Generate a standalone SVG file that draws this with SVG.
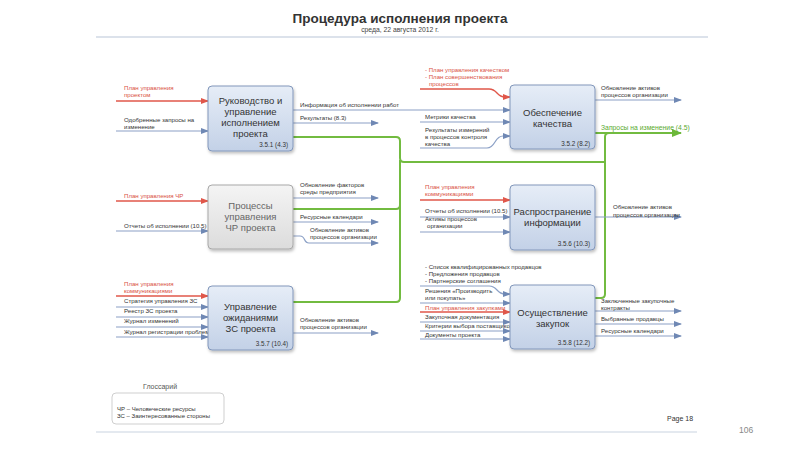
<svg xmlns="http://www.w3.org/2000/svg" width="800" height="450" viewBox="0 0 800 450">
<defs>
<linearGradient id="gBlue" x1="0" y1="0" x2="0" y2="1">
<stop offset="0" stop-color="#e6edf7"/>
<stop offset="1" stop-color="#c3d1e7"/>
</linearGradient>
<linearGradient id="gGray" x1="0" y1="0" x2="0" y2="1">
<stop offset="0" stop-color="#f4f4f4"/>
<stop offset="1" stop-color="#dcdcdc"/>
</linearGradient>
<filter id="sh" x="-10%" y="-10%" width="130%" height="130%">
<feDropShadow dx="1" dy="2" stdDeviation="1.5" flood-color="#000" flood-opacity="0.25"/>
</filter>
<marker id="aB" markerWidth="8" markerHeight="6" refX="7" refY="3" orient="auto" markerUnits="userSpaceOnUse">
<path d="M0,0 L8,3 L0,6 Z" fill="#6f88b4"/>
</marker>
<marker id="aR" markerWidth="8" markerHeight="6" refX="7" refY="3" orient="auto" markerUnits="userSpaceOnUse">
<path d="M0,0 L8,3 L0,6 Z" fill="#e0574a"/>
</marker>
<marker id="aG" markerWidth="10" markerHeight="8" refX="9" refY="4" orient="auto" markerUnits="userSpaceOnUse">
<path d="M0,0 L10,4 L0,8 Z" fill="#6cb83a"/>
</marker>
</defs>
<style>
text{font-family:"Liberation Sans",Arial,sans-serif;}
.box{fill:url(#gBlue);stroke:#8297bb;stroke-width:1;filter:url(#sh);}
.boxg{fill:url(#gGray);stroke:#a8a8a8;stroke-width:1;filter:url(#sh);}
.bt{font-size:9.5px;fill:#333;text-anchor:middle;}
.btg{font-size:9.5px;fill:#666;text-anchor:middle;}
.num{font-size:6.3px;fill:#333;text-anchor:end;}
.lb{font-size:6.1px;fill:#333;}
.lr{font-size:6.1px;fill:#d9503f;}
.lg{font-size:6.8px;fill:#5aaa30;}
.cb{fill:none;stroke:#8ba0c6;stroke-width:1.2;marker-end:url(#aB);}
.cr{fill:none;stroke:#e0574a;stroke-width:1.4;marker-end:url(#aR);}
.cg{fill:none;stroke:#72bb40;stroke-width:2;}
</style>
<rect width="800" height="450" fill="#ffffff"/>

<g id="header">
<text x="400" y="23" font-size="13.5" font-weight="bold" fill="#333" text-anchor="middle">Процедура исполнения проекта</text>
<text x="400" y="31.5" font-size="6.8" fill="#444" text-anchor="middle">среда, 22 августа 2012 г.</text>
<line x1="96" y1="37" x2="708" y2="37" stroke="#b9c5d8" stroke-width="1.2"/>
</g>

<g id="connectors">
<!-- green change requests -->
<path class="cg" d="M293,137 H396 Q400,137 400,141 V158 Q400,162 404,162 H605"/>
<path class="cg" d="M293,209 H396 Q400,209 400,205 V160"/>
<path class="cg" d="M293,302 H396 Q400,302 400,298 V205"/>
<path class="cg" d="M595,298 H601 Q605,298 605,294 V137 Q605,133 609,133"/>
<path class="cg" d="M595,133 H681" marker-end="url(#aG)"/>

<!-- box1 -->
<path class="cr" d="M116,101 H208"/>
<path class="cb" d="M116,131 H208"/>
<path class="cb" d="M293,110 H510"/>
<path class="cb" d="M293,123 H378"/>
<!-- box4 -->
<path class="cr" d="M420,89 H489 C498,89 496,97 505,97 H510"/>
<path class="cb" d="M420,122 H510"/>
<path class="cb" d="M420,148 H487 C496,148 494,136 503,136 H510"/>
<path class="cb" d="M595,100 H681"/>
<!-- box2 -->
<path class="cr" d="M116,201 H208"/>
<path class="cb" d="M116,231 H208"/>
<path class="cb" d="M293,198 H378"/>
<path class="cb" d="M293,222 H378"/>
<path class="cb" d="M293,236 H300 C306,236 303,243 309,243 H378"/>
<!-- box5 -->
<path class="cr" d="M420,200 H510"/>
<path class="cb" d="M420,217 H510"/>
<path class="cb" d="M420,232 H510"/>
<path class="cb" d="M595,217 H681"/>
<!-- box3 -->
<path class="cr" d="M116,296 H208"/>
<path class="cb" d="M116,307 H208"/>
<path class="cb" d="M116,317 H208"/>
<path class="cb" d="M116,327 H208"/>
<path class="cb" d="M116,337 H208"/>
<path class="cb" d="M293,333 H378"/>
<!-- box6 -->
<path class="cb" d="M420,286 H489 C498,286 496,294 505,294 H510"/>
<path class="cb" d="M420,303 H510"/>
<path class="cr" d="M420,312 H510"/>
<path class="cb" d="M420,322 H510"/>
<path class="cb" d="M420,331 H510"/>
<path class="cb" d="M420,339 H510"/>
<path class="cb" d="M595,311 H681"/>
<path class="cb" d="M595,324 H681"/>
<path class="cb" d="M595,336 H681"/>
</g>

<g id="labels">
<text class="lr" x="124" y="90">План управления</text>
<text class="lr" x="124" y="97">проектом</text>
<text class="lb" x="124" y="122">Одобренные запросы на</text>
<text class="lb" x="124" y="129">изменение</text>
<text class="lb" x="300" y="107">Информация об исполнении работ</text>
<text class="lb" x="300" y="120">Результаты (8.3)</text>

<text class="lr" x="425" y="72">- План управления качеством</text>
<text class="lr" x="425" y="79">- План совершенствования</text>
<text class="lr" x="429" y="86">процессов</text>
<text class="lb" x="425" y="119">Метрики качества</text>
<text class="lb" x="425" y="132">Результаты измерений</text>
<text class="lb" x="425" y="139">в процессов контроля</text>
<text class="lb" x="425" y="146">качества</text>
<text class="lb" x="601" y="90">Обновление активов</text>
<text class="lb" x="601" y="97">процессов организации</text>
<text class="lg" x="601" y="130">Запросы на изменение (4.5)</text>

<text class="lr" x="124" y="198">План управления ЧР</text>
<text class="lb" x="124" y="228">Отчеты об исполнении (10.5)</text>
<text class="lb" x="300" y="187">Обновление факторов</text>
<text class="lb" x="300" y="194">среды предприятия</text>
<text class="lb" x="300" y="219">Ресурсные календари</text>
<text class="lb" x="310" y="232">Обновление активов</text>
<text class="lb" x="310" y="239">процессов организации</text>

<text class="lr" x="425" y="189">План управления</text>
<text class="lr" x="425" y="196">коммуникациями</text>
<text class="lb" x="425" y="213">Отчеты об исполнении (10.5)</text>
<text class="lb" x="425" y="221">Активы процессов</text>
<text class="lb" x="427" y="228">организации</text>
<text class="lb" x="613" y="209">Обновление активов</text>
<text class="lb" x="613" y="217">процессов организации</text>

<text class="lr" x="124" y="286">План управления</text>
<text class="lr" x="124" y="293">коммуникациями</text>
<text class="lb" x="124" y="303">Стратегия управления ЗС</text>
<text class="lb" x="124" y="313">Реестр ЗС проекта</text>
<text class="lb" x="124" y="323">Журнал изменений</text>
<text class="lb" x="124" y="334">Журнал регистрации проблем</text>
<text class="lb" x="300" y="322">Обновление активов</text>
<text class="lb" x="300" y="329">процессов организации</text>

<text class="lb" x="425" y="269">- Список квалифицированных продавцов</text>
<text class="lb" x="425" y="276">- Предложения продавцов</text>
<text class="lb" x="425" y="283">- Партнерские соглашения</text>
<text class="lb" x="425" y="293">Решения «Производить</text>
<text class="lb" x="425" y="300">или покупать»</text>
<text class="lr" x="425" y="310">План управления закупками</text>
<text class="lb" x="425" y="319">Закупочная документация</text>
<text class="lb" x="425" y="328">Критерии выбора поставщиков</text>
<text class="lb" x="425" y="337">Документы проекта</text>
<text class="lb" x="601" y="303">Заключенные закупочные</text>
<text class="lb" x="601" y="310">контракты</text>
<text class="lb" x="601" y="321">Выбранные продавцы</text>
<text class="lb" x="601" y="333">Ресурсные календари</text>
</g>

<g id="n1">
<rect class="box" x="208" y="86" width="85" height="65" rx="4"/>
<text class="bt" x="250.5" y="104">Руководство и</text>
<text class="bt" x="250.5" y="115">управление</text>
<text class="bt" x="250.5" y="126">исполнением</text>
<text class="bt" x="250.5" y="137">проекта</text>
<text class="num" x="288" y="147">3.5.1 (4.3)</text>
</g>
<g id="n2">
<rect class="boxg" x="208" y="185" width="85" height="64" rx="4"/>
<text class="btg" x="250.5" y="209">Процессы</text>
<text class="btg" x="250.5" y="220">управления</text>
<text class="btg" x="250.5" y="231">ЧР проекта</text>
</g>
<g id="n3">
<rect class="box" x="208" y="286" width="85" height="64" rx="4"/>
<text class="bt" x="250.5" y="309.5">Управление</text>
<text class="bt" x="250.5" y="320.5">ожиданиями</text>
<text class="bt" x="250.5" y="331.5">ЗС проекта</text>
<text class="num" x="288" y="346">3.5.7 (10.4)</text>
</g>
<g id="n4">
<rect class="box" x="510" y="85" width="85" height="64" rx="4"/>
<text class="bt" x="552.5" y="116">Обеспечение</text>
<text class="bt" x="552.5" y="127">качества</text>
<text class="num" x="590" y="145.5">3.5.2 (8.2)</text>
</g>
<g id="n5">
<rect class="box" x="510" y="185" width="85" height="65" rx="4"/>
<text class="bt" x="552.5" y="214.5">Распространение</text>
<text class="bt" x="552.5" y="225.5">информации</text>
<text class="num" x="590" y="246">3.5.6 (10.3)</text>
</g>
<g id="n6">
<rect class="box" x="510" y="285" width="85" height="64" rx="4"/>
<text class="bt" x="552.5" y="316">Осуществление</text>
<text class="bt" x="552.5" y="327">закупок</text>
<text class="num" x="590" y="345">3.5.8 (12.2)</text>
</g>

<g id="glossary">
<text x="143" y="389" font-size="7" fill="#555">Глоссарий</text>
<rect x="112" y="393" width="112" height="31" rx="4" fill="#fff" stroke="#cfcfcf" stroke-width="1"/>
<text x="117" y="411" font-size="6" fill="#333">ЧР – Человеческие ресурсы</text>
<text x="117" y="418" font-size="6" fill="#333">ЗС – Заинтересованные стороны</text>
</g>

<g id="footer">
<text x="667" y="421" font-size="7" fill="#333">Page 18</text>
<line x1="96" y1="432" x2="697" y2="432" stroke="#c9d3e0" stroke-width="1"/>
<text x="739" y="433" font-size="8.5" fill="#888">106</text>
</g>
</svg>
